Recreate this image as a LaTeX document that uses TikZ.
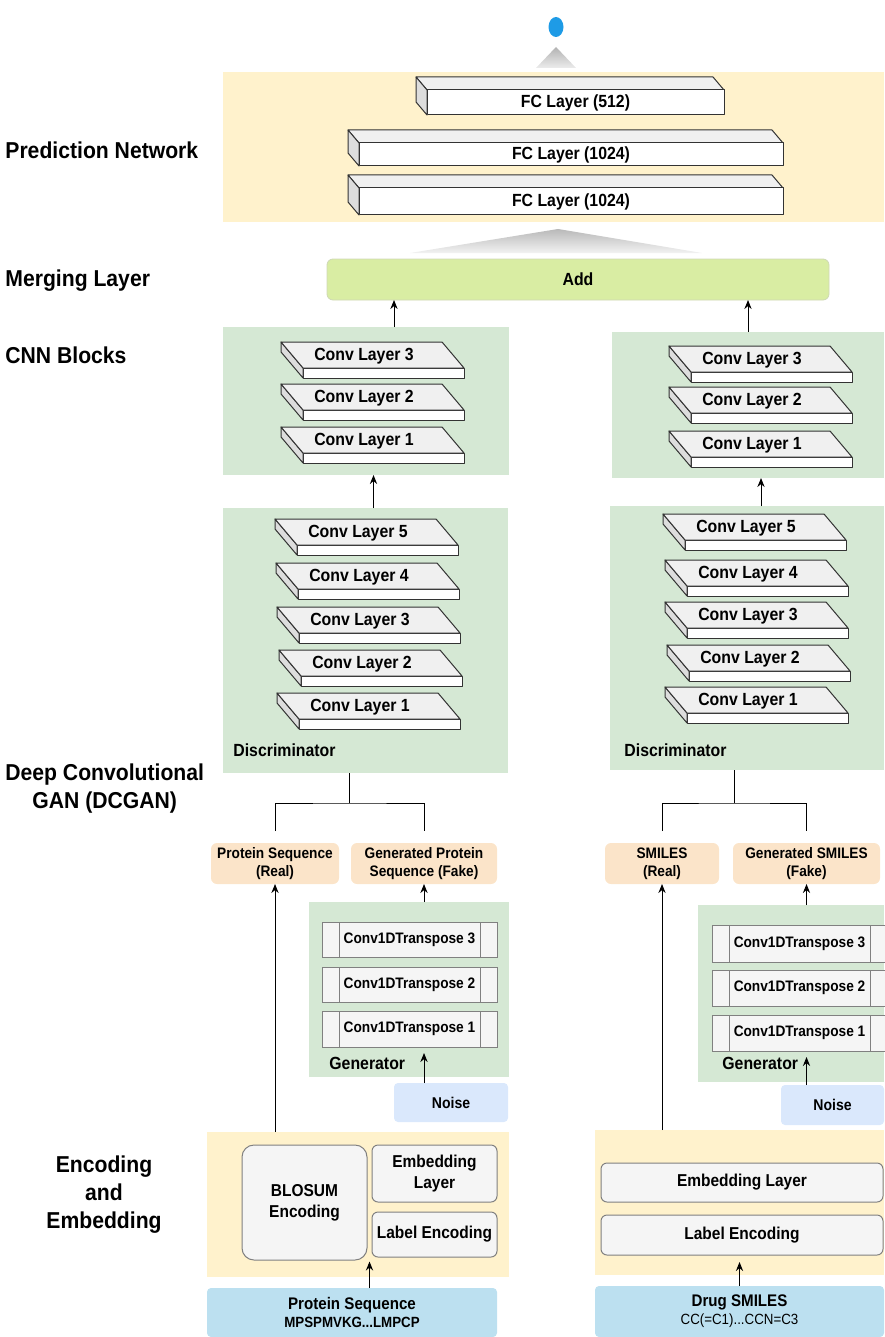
\documentclass[tikz,border=0pt]{standalone}
\usepackage{fontspec}
\setmainfont{Liberation Sans}[FakeStretch=0.9]
\newfontfamily\lblfont{Liberation Sans}[FakeStretch=0.92]
\usetikzlibrary{arrows.meta,calc,shapes.geometric}

\definecolor{bandyel}{HTML}{FFF2CC}
\definecolor{blkgreen}{HTML}{D5E8D4}
\definecolor{peach}{HTML}{FBE4C9}
\definecolor{addgreen}{HTML}{D9EDA3}
\definecolor{noiseblue}{HTML}{DAE8FC}
\definecolor{inblue}{HTML}{BCE0F0}
\definecolor{dotblue}{HTML}{1E9BE6}
\definecolor{slabline}{HTML}{333333}
\definecolor{slabtop}{HTML}{F0F0F0}
\definecolor{slabside}{HTML}{DDDDDD}
\definecolor{boxgray}{HTML}{F5F5F5}
\definecolor{boxline}{HTML}{808080}

\tikzset{
  spans/.style n args={4}{minimum width={(#3-#1)*0.5pt}, minimum height={(#4-#2)*0.5pt},
    at={({(#1+#3)/2},{(#2+#4)/2})}, inner sep=0, outer sep=0},
  lbl/.style={font=\lblfont\fontsize{11.5}{14}\selectfont\bfseries, align=center, inner sep=0},
  ltxt/.style={font=\fontsize{8.8}{10}\selectfont\bfseries, inner sep=0},
  band/.style={fill=bandyel},
  blk/.style={fill=blkgreen},
  slab/.style={draw=slabline, line width=0.5pt, line join=round},
  fcface/.style={slab, fill=white, font=\fontsize{8.8}{10}\selectfont\bfseries},
  tconv/.style={draw=boxline, fill=boxgray, line width=0.5pt, font=\fontsize{7.6}{9}\selectfont\bfseries},
  peachbox/.style={fill=peach, rounded corners=3pt, align=center, font=\fontsize{7.6}{9}\selectfont\bfseries},
  encbox/.style={draw=boxline, fill=boxgray, line width=0.5pt, rounded corners=3pt, align=center, font=\fontsize{8.6}{10.5}\selectfont\bfseries},
  noisebox/.style={fill=noiseblue, rounded corners=2pt, font=\fontsize{7.8}{9}\selectfont\bfseries},
  inbox/.style={fill=inblue, rounded corners=2pt, align=center, font=\fontsize{8.4}{10}\selectfont\bfseries},
  arr/.style={line width=0.5pt, -{Stealth[length=4.5pt,width=3.6pt]}},
  wire/.style={line width=0.5pt}
}

% flat 3D conv slab, front top-left corner at (#2,#3)
\newcommand{\convlayer}[4]{%
  \draw[slab, fill=white] (#2,#3) rectangle (#2+161,#3+10);
  \draw[slab, fill=slabside] (#2,#3) -- (#2-22,#3-26) -- (#2-22,#3-16) -- (#2,#3+10) -- cycle;
  \draw[slab, fill=slabtop] (#2,#3) -- (#2-22,#3-26) -- (#2+139,#3-26) -- (#2+161,#3) -- cycle;
  \node[ltxt] (#1) at (#2+61,#3-12) {#4};
}
% dense layer box
\newcommand{\fclayer}[6]{%
  \draw[slab, fill=slabtop] (#2,#3) -- (#2-11,#3-13) -- (#4-11,#3-13) -- (#4,#3) -- cycle;
  \draw[slab, fill=slabside] (#2,#3) -- (#2-11,#3-13) -- (#2-11,#5-13) -- (#2,#5) -- cycle;
  \node[fcface, spans={#2}{#3}{#4}{#5}] (#1) {#6};
}
% side bars of a transpose conv box
\newcommand{\tclines}[1]{%
  \draw[boxline, line width=0.5pt] ($(#1.north west)+(17,0)$) -- ($(#1.south west)+(17,0)$);
  \draw[boxline, line width=0.5pt] ($(#1.north east)+(-17,0)$) -- ($(#1.south east)+(-17,0)$);
}

\begin{document}
\begin{tikzpicture}[x=0.5pt,y=-0.5pt]
\useasboundingbox (0,0) rectangle (884,1337);

% section labels
\node[lbl, anchor=west] (predlbl) at (5,150) {Prediction Network};
\node[lbl, anchor=west] (mergelbl) at (5,281) {Merging Layer};
\node[lbl, anchor=west] (cnnlbl) at (5,355) {CNN Blocks};
\node[lbl, anchor=west] (ganlbl) at (5,789) {Deep Convolutional\\GAN (DCGAN)};
\node[lbl] (enclbl) at (104,1195) {Encoding\\and\\Embedding};

% output
\node[ellipse, fill=dotblue, minimum width=7.5pt, minimum height=10pt, inner sep=0] (outdot) at (556,27) {};
\shade[top color=gray!60, bottom color=gray!15] (556,47) -- (576,68) -- (536,68) -- cycle;

% prediction network
\node[band, spans={223}{72}{884}{222}] (predband) {};
\fclayer{fc1}{427}{90}{724}{115}{FC Layer (512)}
\fclayer{fc2}{359}{143}{783}{166}{FC Layer (1024)}
\fclayer{fc3}{359}{188}{783}{215}{FC Layer (1024)}
\shade[top color=gray!55, bottom color=gray!10] (558,229) -- (702,253) -- (410,253) -- cycle;

% merging
\node[fill=addgreen, draw=addgreen!80!black!60, rounded corners=3pt, font=\fontsize{8.8}{10}\selectfont\bfseries, spans={327}{259}{829}{300}] (add) {Add};

% CNN blocks
\node[blk, spans={223}{327}{509}{475}] (cnnL) {};
\node[blk, spans={612}{332}{884}{478}] (cnnR) {};
\convlayer{cnnL3}{303}{368}{Conv Layer 3}
\convlayer{cnnL2}{303}{410}{Conv Layer 2}
\convlayer{cnnL1}{303}{453}{Conv Layer 1}
\convlayer{cnnR3}{691}{372}{Conv Layer 3}
\convlayer{cnnR2}{691}{413}{Conv Layer 2}
\convlayer{cnnR1}{691}{457}{Conv Layer 1}

% discriminators
\node[blk, spans={223}{508}{508}{773}] (discL) {};
\node[blk, spans={610}{506}{884}{770}] (discR) {};
\convlayer{dL5}{297}{545}{Conv Layer 5}
\convlayer{dL4}{298}{589}{Conv Layer 4}
\convlayer{dL3}{299}{633}{Conv Layer 3}
\convlayer{dL2}{301}{676}{Conv Layer 2}
\convlayer{dL1}{299}{719}{Conv Layer 1}
\convlayer{dR5}{685}{540}{Conv Layer 5}
\convlayer{dR4}{687}{586}{Conv Layer 4}
\convlayer{dR3}{687}{628}{Conv Layer 3}
\convlayer{dR2}{689}{671}{Conv Layer 2}
\convlayer{dR1}{687}{713}{Conv Layer 1}
\node[ltxt, anchor=west] (discLlbl) at (233,750) {Discriminator};
\node[ltxt, anchor=west] (discRlbl) at (624,750) {Discriminator};

% real / fake samples
\node[peachbox, spans={211}{843}{339}{884}] (realP) {Protein Sequence\\(Real)};
\node[peachbox, spans={351}{843}{497}{884}] (fakeP) {Generated Protein\\Sequence (Fake)};
\node[peachbox, spans={605}{843}{719}{884}] (realS) {SMILES\\(Real)};
\node[peachbox, spans={733}{843}{880}{884}] (fakeS) {Generated SMILES\\(Fake)};

% generators
\node[blk, spans={309}{902}{509}{1077}] (genL) {};
\node[blk, spans={698}{905}{884}{1082}] (genR) {};
\node[tconv, spans={322}{922}{497}{957}] (tcL3) {Conv1DTranspose 3};
\node[tconv, spans={322}{967}{497}{1002}] (tcL2) {Conv1DTranspose 2};
\node[tconv, spans={322}{1011}{497}{1047}] (tcL1) {Conv1DTranspose 1};
\node[tconv, spans={712}{925}{887}{962}] (tcR3) {Conv1DTranspose 3};
\node[tconv, spans={712}{970}{887}{1006}] (tcR2) {Conv1DTranspose 2};
\node[tconv, spans={712}{1015}{887}{1051}] (tcR1) {Conv1DTranspose 1};
\tclines{tcL3} \tclines{tcL2} \tclines{tcL1}
\tclines{tcR3} \tclines{tcR2} \tclines{tcR1}
\node[ltxt, anchor=west] (genLlbl) at (329,1063) {Generator};
\node[ltxt, anchor=west] (genRlbl) at (722,1063) {Generator};
\node[noisebox, spans={394}{1083}{508}{1122}] (noiseL) {Noise};
\node[noisebox, spans={781}{1085}{884}{1125}] (noiseR) {Noise};

% encoding and embedding
\node[band, spans={207}{1132}{509}{1277}] (encL) {};
\node[band, spans={595}{1130}{884}{1275}] (encR) {};
\node[encbox, rounded corners=6pt, spans={242}{1145}{367}{1260}] (blosum) {BLOSUM\\Encoding};
\node[encbox, spans={372}{1145}{497}{1202}] (embL) {Embedding\\Layer};
\node[encbox, spans={372}{1212}{497}{1257}] (labL) {Label Encoding};
\node[encbox, spans={601}{1163}{883}{1202}] (embR) {Embedding Layer};
\node[encbox, spans={601}{1215}{883}{1255}] (labR) {Label Encoding};

% inputs
\node[inbox, spans={207}{1288}{497}{1337}] (protIn) {Protein Sequence\\[-1pt]{\fontsize{7.4}{9}\selectfont MPSPMVKG...LMPCP}};
\node[inbox, spans={595}{1286}{884}{1337}] (drugIn) {Drug SMILES\\[-1pt]{\fontsize{7.4}{9}\selectfont\mdseries CC(=C1)...CCN=C3}};

% connectors
\coordinate (addinL) at ($(cnnL.north)+(28,0)$);
\draw[arr] (addinL) -- (addinL |- add.south);
\draw[arr] (cnnR.north) -- (cnnR.north |- add.south);
\coordinate (cnninL) at ($(discL.north)+(8,0)$);
\coordinate (cnninR) at ($(discR.north)+(14,0)$);
\draw[arr] (cnninL) -- (cnninL |- cnnL.south);
\draw[arr] (cnninR) -- (cnninR |- cnnR.south);

\coordinate (forkL) at ($(realP.north)!0.5!(fakeP.north)+(0,-40)$);
\coordinate (forkR) at ($(realS.north)!0.5!(fakeS.north)+(0,-40)$);
\draw[wire] (forkL |- discL.south) -- (forkL);
\draw[wire] ($(realP.north)+(0,-12)$) |- (forkL) -| ($(fakeP.north)+(0,-12)$);
\draw[wire] (forkR |- discR.south) -- (forkR);
\draw[wire] ($(realS.north)+(0,-12)$) |- (forkR) -| ($(fakeS.north)+(0,-12)$);

\draw[arr] (realP.south |- encL.north) -- (realP.south);
\draw[arr] (realS.south |- encR.north) -- (realS.south);
\draw[arr] (fakeP.south |- genL.north) -- (fakeP.south);
\draw[arr] (fakeS.south |- genR.north) -- (fakeS.south);

\coordinate (noisetoL) at (tcL1.south -| fakeP.south);
\coordinate (noisetoR) at (tcR1.south -| fakeS.south);
\draw[arr] (noiseL.north -| fakeP.south) -- ($(noisetoL)+(0,6)$);
\draw[arr] (noiseR.north -| fakeS.south) -- ($(noisetoR)+(0,6)$);

\coordinate (gapL) at ($(blosum.south east)!0.5!(labL.south west)$);
\draw[arr] (protIn.north -| gapL) -- ($(gapL)+(0,3)$);
\draw[arr] (drugIn.north) -- ($(drugIn.north |- labR.south)+(0,7)$);
\end{tikzpicture}
\end{document}
